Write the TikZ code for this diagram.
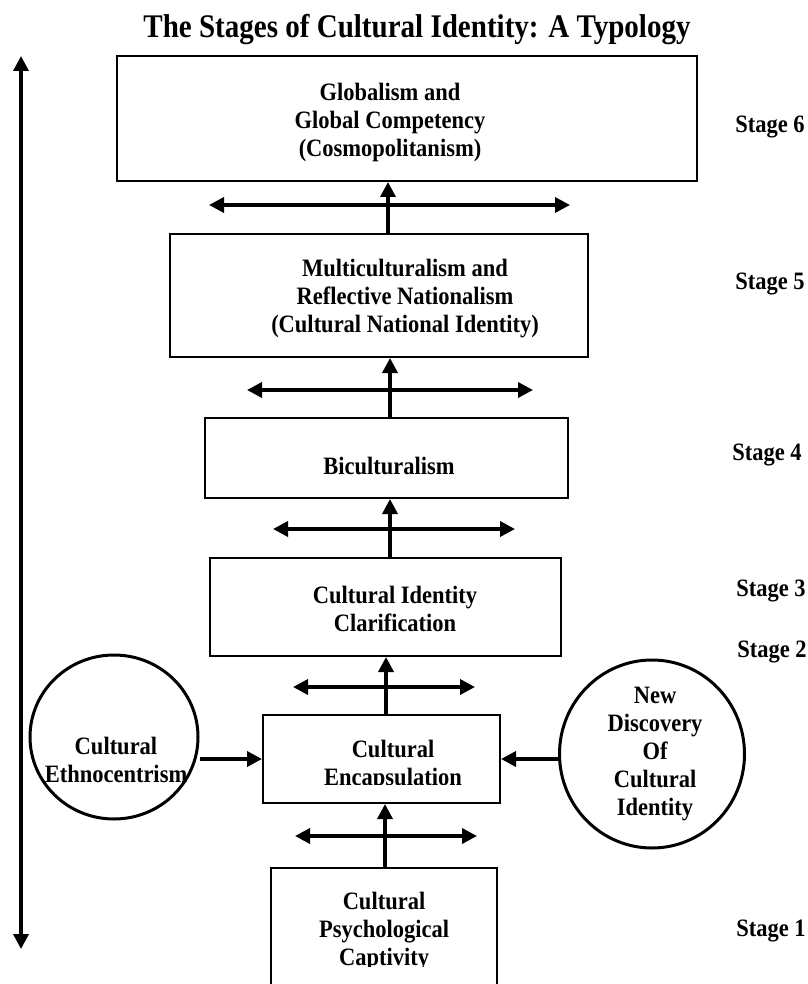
\documentclass[tikz,border=0pt]{standalone}
\usepackage{fontspec}
\setmainfont{Liberation Serif}[FakeStretch=0.9]
\newfontfamily\titlefont{Liberation Serif}[FakeStretch=0.88]
\usetikzlibrary{arrows.meta,shapes.geometric}
\begin{document}
\begin{tikzpicture}[x=1pt,y=-1pt,
  stagebox/.style={draw, line width=2pt, inner sep=0pt},
  ring/.style={draw, ellipse, line width=3pt, inner sep=0pt},
  lbl/.style={align=center, inner sep=0pt, font=\bfseries\fontsize{25}{28}\selectfont},
  stagelbl/.style={inner sep=0pt, font=\bfseries\fontsize{25}{28}\selectfont},
  head/.style={-{Triangle[length=15pt,width=15pt]}},
  twohead/.style={{Triangle[length=15pt,width=15pt]}-{Triangle[length=15pt,width=15pt]}},
  conn/.style={line width=3.5pt}]
\useasboundingbox (0,0) rectangle (807,984);

% title
\node[inner sep=0pt, font=\titlefont\bfseries\fontsize{33}{36}\selectfont] (title) at (417,30) {The Stages of Cultural Identity: A Typology};

% long development axis
\coordinate (axtop) at (21,56);
\coordinate (axbot) at (21,949);
\draw[conn, twohead] (axtop) -- (axbot);

% stage boxes
\node[stagebox, minimum width=580pt, minimum height=125pt] (b6) at (407,118.5) {};
\node[stagebox, minimum width=418pt, minimum height=123pt] (b5) at (379,295.5) {};
\node[stagebox, minimum width=363pt, minimum height=80pt] (b4) at (386.5,458) {};
\node[stagebox, minimum width=351pt, minimum height=98pt] (b3) at (385.5,607) {};
\node[stagebox, minimum width=237pt, minimum height=88pt] (b2) at (381.5,759) {};
\node[stagebox, minimum width=226pt, minimum height=150pt] (b1) at (384,943) {};

% box texts
\node[lbl] (t6) at (390,122.5) {Globalism and\\Global Competency\\(Cosmopolitanism)};
\node[lbl] (t5) at (405,298.5) {Multiculturalism and\\Reflective Nationalism\\(Cultural National Identity)};
\node[lbl] (t4) at (389,466) {Biculturalism};
\node[lbl] (t3) at (395,609) {Cultural Identity\\Clarification};
\begin{scope}
  \clip (263,714) rectangle (500,784);
  \node[lbl] (t2) at (393,765) {Cultural\\Encapsulation};
\end{scope}
\begin{scope}
  \clip (270,867) rectangle (496,966);
  \node[lbl] (t1) at (384,932) {Cultural\\Psychological\\Captivity};
\end{scope}

% side circles
\node[ring, minimum width=168pt, minimum height=164pt] (ce) at (114,737) {};
\node[lbl] (tce) at (116,759.5) {Cultural\\Ethnocentrism};
\node[ring, minimum width=185pt, minimum height=188pt] (nd) at (652,754) {};
\node[lbl] (tnd) at (655,754) {New\\Discovery\\Of\\Cultural\\Identity};

% stage labels
\node[stagelbl] (s6) at (770,127) {Stage 6};
\node[stagelbl] (s5) at (770,284) {Stage 5};
\node[stagelbl] (s4) at (767,455) {Stage 4};
\node[stagelbl] (s3) at (771,591) {Stage 3};
\node[stagelbl] (s2) at (772,652) {Stage 2};
\node[stagelbl] (s1) at (771,931) {Stage 1};

% horizontal spread arrows between stages
\coordinate (h6l) at (209,205); \coordinate (h6r) at (570,205);
\coordinate (h5l) at (247,390); \coordinate (h5r) at (533,390);
\coordinate (h4l) at (273,529); \coordinate (h4r) at (515,529);
\coordinate (h3l) at (293,687); \coordinate (h3r) at (475,687);
\coordinate (h2l) at (295,836); \coordinate (h2r) at (477,836);
\foreach \k in {6,5,4,3,2} \draw[conn, twohead] (h\k l) -- (h\k r);

% upward arrows from stage to stage
\draw[conn, head] (b5.north -| 388,0) -- (b6.south -| 388,0);
\draw[conn, head] (b4.north -| 390,0) -- (b5.south -| 390,0);
\draw[conn, head] (b3.north -| 390,0) -- (b4.south -| 390,0);
\draw[conn, head] (b2.north -| 386,0) -- (b3.south -| 386,0);
\draw[conn, head] (b1.north -| 385,0) -- (b2.south -| 385,0);

% side influences
\draw[conn, head] (ce.east |- 0,759) -- (b2.west |- 0,759);
\draw[conn, head] (nd.west |- 0,759) -- (b2.east |- 0,759);
\end{tikzpicture}
\end{document}
